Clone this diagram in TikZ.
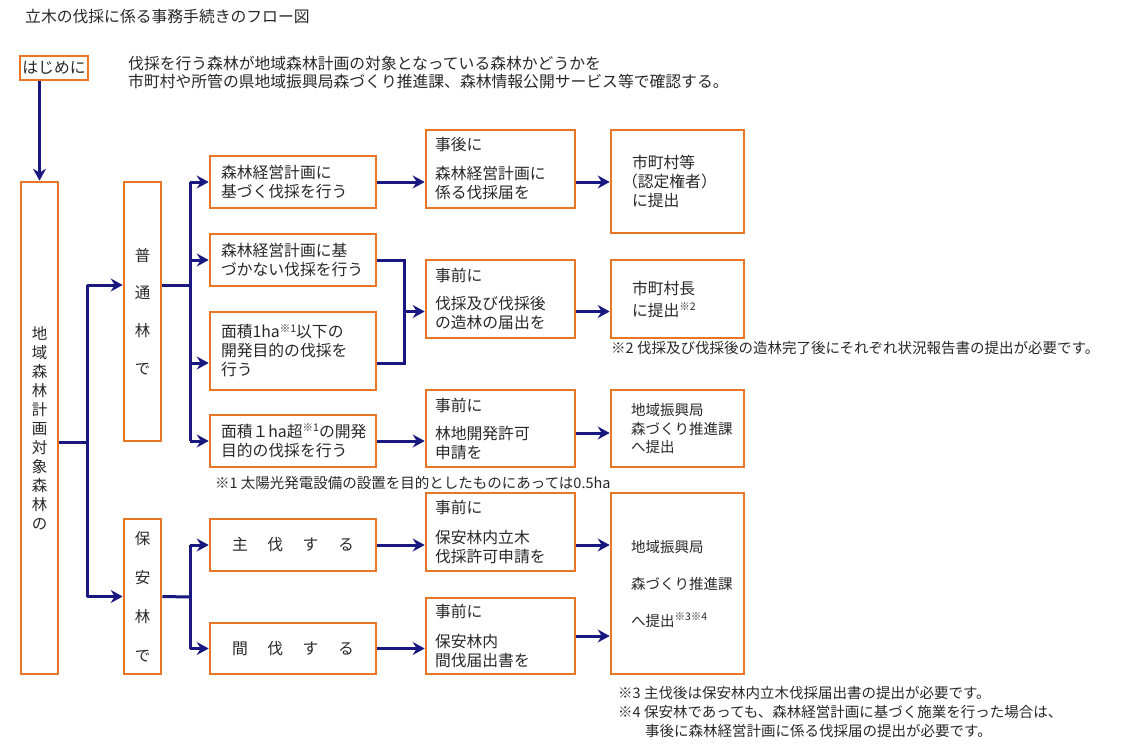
\documentclass[tikz,border=0pt]{standalone}
\usepackage{fontspec}
\setmainfont{Noto Sans CJK JP}
\usetikzlibrary{arrows.meta}
\definecolor{boxorange}{RGB}{232,118,36}
\definecolor{linenavy}{RGB}{24,24,128}
\definecolor{txtgray}{RGB}{40,40,40}
\newcommand{\supnote}[1]{\raisebox{5.5pt}{\fontsize{10.5}{10.5}\selectfont #1}}
\tikzset{
  obox/.style={draw=boxorange, line width=2.6pt, inner sep=0pt, text=txtgray,
    font=\fontsize{15.8}{19}\selectfont},
  btext/.style={obox, align=left, text width=144pt},
  ctext/.style={obox, align=left, text width=131pt},
  dtext/.style={obox, align=left, text width=91pt},
  vtext/.style={obox, align=center},
  conn/.style={draw=linenavy, line width=3pt},
  arr/.style={conn, -{Stealth[length=12pt,width=13pt,inset=4pt]}},
  plain/.style={inner sep=0pt, text=txtgray, font=\fontsize{15.8}{18}\selectfont},
  note/.style={inner sep=0pt, text=txtgray, font=\fontsize{14.5}{19}\selectfont, align=left},
}
\begin{document}
\begin{tikzpicture}[x=1pt,y=-1pt]
\useasboundingbox[fill=white] (0,0) rectangle (1130,755);

% title and intro
\node[plain, anchor=west] (title) at (25,17) {立木の伐採に係る事務手続きのフロー図};
\node[obox, minimum width=68pt, minimum height=24pt] (start) at (54,68) {はじめに};
\node[plain, anchor=west, align=left] (intro) at (128,72)
  {伐採を行う森林が地域森林計画の対象となっている森林かどうかを\\
   市町村や所管の県地域振興局森づくり推進課、森林情報公開サービス等で確認する。};

% left column
\node[vtext, minimum width=37pt, minimum height=492pt, font=\fontsize{15.5}{19}\selectfont] (big) at (39.5,428)
  {地\\域\\森\\林\\計\\画\\対\\象\\森\\林\\の};
\node[vtext, minimum width=37pt, minimum height=259pt, font=\fontsize{15.5}{37.6}\selectfont] (fut) at (142.5,311.5)
  {普\\通\\林\\で};
\node[vtext, minimum width=37pt, minimum height=155pt, font=\fontsize{15.5}{39}\selectfont] (hoan) at (142.5,596.5)
  {保\\安\\林\\で};

% column B
\node[btext, minimum width=166pt, minimum height=52pt] (B1) at (293,182)
  {森林経営計画に\\基づく伐採を行う};
\node[btext, minimum width=166pt, minimum height=52pt] (B2) at (293,260)
  {森林経営計画に基\\づかない伐採を行う};
\node[btext, minimum width=166pt, minimum height=78pt] (B3) at (293,351)
  {面積1ha\supnote{※1}以下の\\開発目的の伐採を\\行う};
\node[btext, minimum width=166pt, minimum height=52pt] (B4) at (293,441)
  {面積１ha超\supnote{※1}の開発\\目的の伐採を行う};
\node[obox, minimum width=166pt, minimum height=52pt] (B5) at (293,545)
  {主\hspace{19.5pt}伐\hspace{19.5pt}す\hspace{19.5pt}る};
\node[obox, minimum width=166pt, minimum height=51pt] (B6) at (293,648.5)
  {間\hspace{19.5pt}伐\hspace{19.5pt}す\hspace{19.5pt}る};

% column C
\node[ctext, minimum width=149pt, minimum height=78pt] (C1) at (500.5,169)
  {事後に\\[10pt]森林経営計画に\\係る伐採届を};
\node[ctext, minimum width=149pt, minimum height=78pt] (C2) at (500.5,299)
  {事前に\\[9pt]伐採及び伐採後\\の造林の届出を};
\node[ctext, minimum width=149pt, minimum height=77pt] (C3) at (500.5,428.5)
  {事前に\\[9pt]林地開発許可\\申請を};
\node[ctext, minimum width=149pt, minimum height=78pt] (C4) at (500.5,532)
  {事前に\\[11pt]保安林内立木\\伐採許可申請を};
\node[ctext, minimum width=149pt, minimum height=76pt] (C5) at (500.5,636)
  {事前に\\[11pt]保安林内\\間伐届出書を};

% column D
\node[dtext, minimum width=133pt, minimum height=103pt] (D1) at (677.5,181.5)
  {市町村等\\\hspace*{-10pt}（認定権者）\\に提出};
\node[dtext, minimum width=133pt, minimum height=78pt, font=\fontsize{15.8}{22}\selectfont] (D2) at (677.5,299)
  {市町村長\\に提出\supnote{※2}};
\node[dtext, minimum width=133pt, minimum height=77pt, text width=93pt, font=\fontsize{14.5}{18.5}\selectfont] (D3) at (677.5,428.5)
  {地域振興局\\森づくり推進課\\へ提出};
\node[dtext, minimum width=133pt, minimum height=181pt, text width=93pt, font=\fontsize{14.5}{37}\selectfont] (D4) at (677.5,583.5)
  {地域振興局\\森づくり推進課\\へ提出\supnote{※3※4}};

% footnotes
\node[note, anchor=west] (fn1) at (215,483) {※1 太陽光発電設備の設置を目的としたものにあっては0.5ha};
\node[note, anchor=west] (fn2) at (611,348) {※2 伐採及び伐採後の造林完了後にそれぞれ状況報告書の提出が必要です。};
\node[note, anchor=west] (fn3) at (618,712)
  {※3 主伐後は保安林内立木伐採届出書の提出が必要です。\\
   ※4 保安林であっても、森林経営計画に基づく施業を行った場合は、\\
   \hspace*{27pt}事後に森林経営計画に係る伐採届の提出が必要です。};

% connectors
\draw[arr] (big.north |- start.south) -- (big.north);

\coordinate (j) at (87,442);
\coordinate (jt) at (87,285);
\draw[conn] (big.east |- j) -- (j);
\draw[conn] (jt) -- (jt |- hoan.west);
\draw[arr] (jt) -- (fut.west |- jt);
\draw[arr] (jt |- hoan.west) -- (hoan.west);

\coordinate (t) at (190,285);
\coordinate (k1) at (404,260);
\coordinate (k2) at (404,363);
\coordinate (k3) at (404,311.5);
\draw[conn] (fut.east |- t) -- (t);
\draw[conn] (t |- B1.west) -- (t |- B4.west);
\draw[arr] (t |- B1.west) -- (B1.west);
\draw[arr] (t |- B2.west) -- (B2.west);
\draw[arr] (t |- k2) -- (B3.west |- k2);
\draw[arr] (t |- B4.west) -- (B4.west);

\coordinate (h) at (190,597);
\draw[conn] (hoan.east) -- (h);
\draw[conn] (h |- B5.west) -- (h |- B6.west);
\draw[arr] (h |- B5.west) -- (B5.west);
\draw[arr] (h |- B6.west) -- (B6.west);

\draw[arr] (B1.east) -- (B1.east -| C1.west);
\draw[arr] (C1.east |- B1.east) -- (D1.west |- B1.east);

\draw[conn] (B2.east) -- (k1) -- (k2) -- (B3.east |- k2);
\draw[arr] (k3) -- (k3 -| C2.west);
\draw[arr] (C2.east |- k3) -- (D2.west |- k3);

\draw[arr] (B4.east) -- (B4.east -| C3.west);
\draw[arr] ([yshift=-4.5pt]C3.east) -- ([yshift=-4.5pt]C3.east -| D3.west);

\draw[arr] (B5.east) -- (B5.east -| C4.west);
\draw[arr] (C4.east |- B5.east) -- (D4.west |- B5.east);

\draw[arr] (B6.east) -- (B6.east -| C5.west);
\draw[arr] (C5.east) -- (C5.east -| D4.west);
\end{tikzpicture}
\end{document}
